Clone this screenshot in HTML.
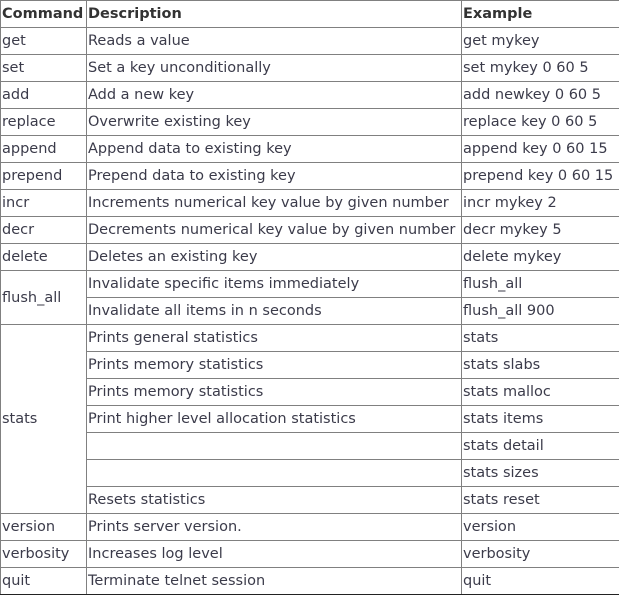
<!DOCTYPE html>
<html><head><style>
body{margin:0;background:#fff;}
table{border-collapse:collapse;position:absolute;left:0;top:0;width:619px;table-layout:fixed;font-family:"DejaVu Sans","Liberation Sans",sans-serif;font-size:14.5px;color:#3b3b4a;}
td,th{border:1px solid #808080;height:26px;padding:0 0 0 1px;text-align:left;white-space:nowrap;overflow:hidden;line-height:26px;}
th{font-weight:bold;color:#333;}
tr:last-child td{border-bottom:1px solid #222;}
td:last-child,th:last-child{border-right:1px solid #222;}
</style></head><body>
<table>
<colgroup><col style="width:86px"><col style="width:375px"><col style="width:158px"></colgroup>
<tr><th>Command</th><th>Description</th><th>Example</th></tr>
<tr><td>get</td><td>Reads a value</td><td>get mykey</td></tr>
<tr><td>set</td><td>Set a key unconditionally</td><td>set mykey 0 60 5</td></tr>
<tr><td>add</td><td>Add a new key</td><td>add newkey 0 60 5</td></tr>
<tr><td>replace</td><td>Overwrite existing key</td><td>replace key 0 60 5</td></tr>
<tr><td>append</td><td>Append data to existing key</td><td>append key 0 60 15</td></tr>
<tr><td>prepend</td><td>Prepend data to existing key</td><td>prepend key 0 60 15</td></tr>
<tr><td>incr</td><td>Increments numerical key value by given number</td><td>incr mykey 2</td></tr>
<tr><td>decr</td><td>Decrements numerical key value by given number</td><td>decr mykey 5</td></tr>
<tr><td>delete</td><td>Deletes an existing key</td><td>delete mykey</td></tr>
<tr><td rowspan="2">flush_all</td><td>Invalidate specific items immediately</td><td>flush_all</td></tr>
<tr><td>Invalidate all items in n seconds</td><td>flush_all 900</td></tr>
<tr><td rowspan="7">stats</td><td>Prints general statistics</td><td>stats</td></tr>
<tr><td>Prints memory statistics</td><td>stats slabs</td></tr>
<tr><td>Prints memory statistics</td><td>stats malloc</td></tr>
<tr><td>Print higher level allocation statistics</td><td>stats items</td></tr>
<tr><td></td><td>stats detail</td></tr>
<tr><td></td><td>stats sizes</td></tr>
<tr><td>Resets statistics</td><td>stats reset</td></tr>
<tr><td>version</td><td>Prints server version.</td><td>version</td></tr>
<tr><td>verbosity</td><td>Increases log level</td><td>verbosity</td></tr>
<tr><td>quit</td><td>Terminate telnet session</td><td>quit</td></tr>
</table>
</body></html>
